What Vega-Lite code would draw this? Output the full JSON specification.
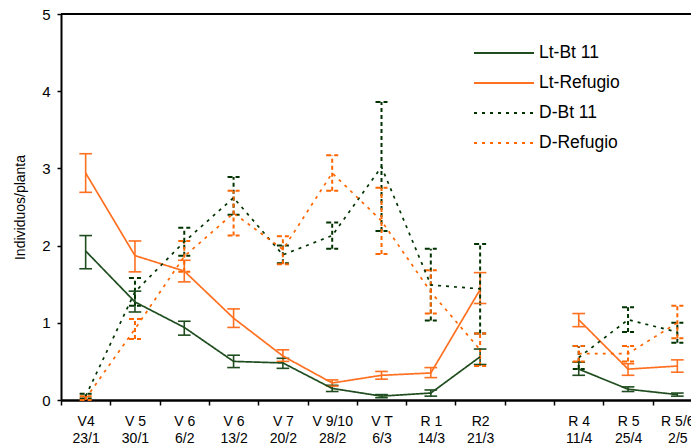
{
  "$schema": "https://vega.github.io/schema/vega-lite/v6.json",
  "width": 630,
  "height": 386,
  "autosize": {"type": "none"},
  "padding": {"left": 61, "top": 14, "right": 0, "bottom": 46},
  "config": {"view": {"stroke": null}, "font": "Liberation Sans"},
  "data": {
    "values": [
      {"s": "Lt-Bt 11", "x": "V4|23/1", "seg": 1, "y": 1.93, "lo": 1.70, "hi": 2.13},
      {"s": "Lt-Bt 11", "x": "V 5|30/1", "seg": 1, "y": 1.27, "lo": 1.14, "hi": 1.41},
      {"s": "Lt-Bt 11", "x": "V 6|6/2", "seg": 1, "y": 0.94, "lo": 0.84, "hi": 1.02},
      {"s": "Lt-Bt 11", "x": "V 6|13/2", "seg": 1, "y": 0.50, "lo": 0.42, "hi": 0.58},
      {"s": "Lt-Bt 11", "x": "V 7|20/2", "seg": 1, "y": 0.48, "lo": 0.41, "hi": 0.54},
      {"s": "Lt-Bt 11", "x": "V 9/10|28/2", "seg": 1, "y": 0.15, "lo": 0.11, "hi": 0.19},
      {"s": "Lt-Bt 11", "x": "V T|6/3", "seg": 1, "y": 0.05, "lo": 0.03, "hi": 0.07},
      {"s": "Lt-Bt 11", "x": "R 1|14/3", "seg": 1, "y": 0.09, "lo": 0.05, "hi": 0.13},
      {"s": "Lt-Bt 11", "x": "R2|21/3", "seg": 1, "y": 0.56, "lo": 0.46, "hi": 0.66},
      {"s": "Lt-Bt 11", "x": "R 4|11/4", "seg": 2, "y": 0.40, "lo": 0.32, "hi": 0.49},
      {"s": "Lt-Bt 11", "x": "R 5|25/4", "seg": 2, "y": 0.14, "lo": 0.11, "hi": 0.17},
      {"s": "Lt-Bt 11", "x": "R 5/6|2/5", "seg": 2, "y": 0.07, "lo": 0.05, "hi": 0.09},

      {"s": "Lt-Refugio", "x": "V4|23/1", "seg": 1, "y": 2.94, "lo": 2.69, "hi": 3.19},
      {"s": "Lt-Refugio", "x": "V 5|30/1", "seg": 1, "y": 1.87, "lo": 1.66, "hi": 2.06},
      {"s": "Lt-Refugio", "x": "V 6|6/2", "seg": 1, "y": 1.67, "lo": 1.53, "hi": 1.81},
      {"s": "Lt-Refugio", "x": "V 6|13/2", "seg": 1, "y": 1.06, "lo": 0.94, "hi": 1.18},
      {"s": "Lt-Refugio", "x": "V 7|20/2", "seg": 1, "y": 0.57, "lo": 0.50, "hi": 0.65},
      {"s": "Lt-Refugio", "x": "V 9/10|28/2", "seg": 1, "y": 0.22, "lo": 0.18, "hi": 0.26},
      {"s": "Lt-Refugio", "x": "V T|6/3", "seg": 1, "y": 0.32, "lo": 0.27, "hi": 0.37},
      {"s": "Lt-Refugio", "x": "R 1|14/3", "seg": 1, "y": 0.35, "lo": 0.29, "hi": 0.42},
      {"s": "Lt-Refugio", "x": "R2|21/3", "seg": 1, "y": 1.43, "lo": 1.25, "hi": 1.65},
      {"s": "Lt-Refugio", "x": "R 4|11/4", "seg": 2, "y": 1.04, "lo": 0.95, "hi": 1.12},
      {"s": "Lt-Refugio", "x": "R 5|25/4", "seg": 2, "y": 0.40, "lo": 0.32, "hi": 0.47},
      {"s": "Lt-Refugio", "x": "R 5/6|2/5", "seg": 2, "y": 0.44, "lo": 0.36, "hi": 0.52},

      {"s": "D-Bt 11", "x": "V4|23/1", "seg": 1, "y": 0.05, "lo": 0.02, "hi": 0.08},
      {"s": "D-Bt 11", "x": "V 5|30/1", "seg": 1, "y": 1.40, "lo": 1.22, "hi": 1.58},
      {"s": "D-Bt 11", "x": "V 6|6/2", "seg": 1, "y": 2.05, "lo": 1.87, "hi": 2.23},
      {"s": "D-Bt 11", "x": "V 6|13/2", "seg": 1, "y": 2.62, "lo": 2.40, "hi": 2.89},
      {"s": "D-Bt 11", "x": "V 7|20/2", "seg": 1, "y": 1.88, "lo": 1.77, "hi": 2.00},
      {"s": "D-Bt 11", "x": "V 9/10|28/2", "seg": 1, "y": 2.13, "lo": 1.96, "hi": 2.30},
      {"s": "D-Bt 11", "x": "V T|6/3", "seg": 1, "y": 3.02, "lo": 2.19, "hi": 3.86},
      {"s": "D-Bt 11", "x": "R 1|14/3", "seg": 1, "y": 1.49, "lo": 1.03, "hi": 1.96},
      {"s": "D-Bt 11", "x": "R2|21/3", "seg": 1, "y": 1.44, "lo": 0.86, "hi": 2.02},
      {"s": "D-Bt 11", "x": "R 4|11/4", "seg": 2, "y": 0.55, "lo": 0.40, "hi": 0.70},
      {"s": "D-Bt 11", "x": "R 5|25/4", "seg": 2, "y": 1.04, "lo": 0.88, "hi": 1.20},
      {"s": "D-Bt 11", "x": "R 5/6|2/5", "seg": 2, "y": 0.88, "lo": 0.74, "hi": 1.00},

      {"s": "D-Refugio", "x": "V4|23/1", "seg": 1, "y": 0.02, "lo": 0.00, "hi": 0.05},
      {"s": "D-Refugio", "x": "V 5|30/1", "seg": 1, "y": 0.92, "lo": 0.79, "hi": 1.05},
      {"s": "D-Refugio", "x": "V 6|6/2", "seg": 1, "y": 1.86, "lo": 1.66, "hi": 2.06},
      {"s": "D-Refugio", "x": "V 6|13/2", "seg": 1, "y": 2.42, "lo": 2.13, "hi": 2.71},
      {"s": "D-Refugio", "x": "V 7|20/2", "seg": 1, "y": 1.95, "lo": 1.76, "hi": 2.12},
      {"s": "D-Refugio", "x": "V 9/10|28/2", "seg": 1, "y": 2.94, "lo": 2.71, "hi": 3.17},
      {"s": "D-Refugio", "x": "V T|6/3", "seg": 1, "y": 2.32, "lo": 1.89, "hi": 2.75},
      {"s": "D-Refugio", "x": "R 1|14/3", "seg": 1, "y": 1.40, "lo": 1.12, "hi": 1.68},
      {"s": "D-Refugio", "x": "R2|21/3", "seg": 1, "y": 0.65, "lo": 0.44, "hi": 0.86},
      {"s": "D-Refugio", "x": "R 4|11/4", "seg": 2, "y": 0.60, "lo": 0.50, "hi": 0.70},
      {"s": "D-Refugio", "x": "R 5|25/4", "seg": 2, "y": 0.60, "lo": 0.50, "hi": 0.70},
      {"s": "D-Refugio", "x": "R 5/6|2/5", "seg": 2, "y": 1.00, "lo": 0.80, "hi": 1.22}
    ]
  },
  "encoding": {
    "x": {
      "field": "x",
      "type": "nominal",
      "bandPosition": 0.5,
      "scale": {
        "type": "band",
        "domain": ["V4|23/1", "V 5|30/1", "V 6|6/2", "V 6|13/2", "V 7|20/2", "V 9/10|28/2", "V T|6/3", "R 1|14/3", "R2|21/3", "gap", "R 4|11/4", "R 5|25/4", "R 5/6|2/5"],
        "range": [0, 641],
        "paddingInner": 0,
        "paddingOuter": 0
      },
      "axis": {
        "title": null,
        "labelExpr": "isString(datum.value) && datum.value != 'gap' ? split(datum.value, '|') : ''",
        "labelAngle": 0,
        "labelFontSize": 14,
        "labelLineHeight": 17,
        "labelColor": "#000000",
        "labelPadding": 9,
        "tickBand": "extent",
        "tickSize": 5,
        "tickColor": "#000000",
        "tickWidth": 1.5,
        "domainColor": "#000000",
        "domainWidth": 2.5,
        "grid": false
      }
    }
  },
  "layer": [
    {
      "mark": {"type": "rule", "color": "#000000", "strokeWidth": 1.5},
      "encoding": {"x": null, "y": {"datum": 5}}
    },
    {
      "transform": [{"filter": "indexof(datum.s, 'Lt') == 0"}],
      "mark": {"type": "rule", "strokeWidth": 1.6},
      "encoding": {
        "y": {"field": "lo", "type": "quantitative"},
        "y2": {"field": "hi"},
        "color": {"field": "s", "type": "nominal"}
      }
    },
    {
      "transform": [{"filter": "indexof(datum.s, 'D') == 0"}],
      "mark": {"type": "rule", "strokeWidth": 2, "strokeDash": [4, 3]},
      "encoding": {
        "y": {"field": "lo", "type": "quantitative"},
        "y2": {"field": "hi"},
        "color": {"field": "s", "type": "nominal"}
      }
    },
    {
      "transform": [
        {"filter": "indexof(datum.s, 'Lt') == 0"},
        {"fold": ["lo", "hi"], "as": ["end", "v"]}
      ],
      "mark": {"type": "point", "shape": "M-1,0L1,0", "filled": false, "size": 160, "strokeWidth": 1.6, "opacity": 1},
      "encoding": {
        "y": {"field": "v", "type": "quantitative"},
        "color": {"field": "s", "type": "nominal"}
      }
    },
    {
      "transform": [
        {"filter": "indexof(datum.s, 'D') == 0"},
        {"fold": ["lo", "hi"], "as": ["end", "v"]}
      ],
      "mark": {"type": "point", "shape": "M-1,0L1,0", "filled": false, "size": 144, "strokeWidth": 2, "strokeDash": [5, 3], "opacity": 1},
      "encoding": {
        "y": {"field": "v", "type": "quantitative"},
        "color": {"field": "s", "type": "nominal"}
      }
    },
    {
      "mark": {"type": "line", "strokeWidth": 1.7},
      "encoding": {
        "y": {
          "field": "y",
          "type": "quantitative",
          "scale": {"domain": [0, 5], "nice": false},
          "axis": {
            "title": "Individuos/planta",
            "titleFontSize": 14,
            "titleFontWeight": "normal",
            "titleColor": "#000000",
            "titlePadding": 14,
            "values": [0, 1, 2, 3, 4, 5],
            "format": "d",
            "labelFontSize": 15,
            "labelColor": "#000000",
            "labelPadding": 7,
            "tickSize": 4,
            "tickColor": "#000000",
            "tickWidth": 1.5,
            "domainColor": "#000000",
            "domainWidth": 2,
            "grid": false
          }
        },
        "detail": {"field": "seg"},
        "color": {
          "field": "s",
          "type": "nominal",
          "title": null,
          "scale": {
            "domain": ["Lt-Bt 11", "Lt-Refugio", "D-Bt 11", "D-Refugio"],
            "range": ["#1f4d1f", "#ff7020", "#003300", "#ff6600"]
          },
          "legend": {
            "orient": "none",
            "legendX": 412,
            "legendY": 25,
            "symbolType": "stroke",
            "symbolSize": 3600,
            "symbolStrokeWidth": 2,
            "labelFontSize": 17.5,
            "labelColor": "#000000",
            "labelOffset": 4,
            "clipHeight": 28,
            "rowPadding": 2
          }
        },
        "strokeDash": {
          "field": "s",
          "type": "nominal",
          "title": null,
          "scale": {
            "domain": ["Lt-Bt 11", "Lt-Refugio", "D-Bt 11", "D-Refugio"],
            "range": [[1, 0], [1, 0], [3, 5], [3, 5]]
          },
          "legend": {
            "orient": "none",
            "legendX": 412,
            "legendY": 25,
            "symbolType": "stroke",
            "symbolSize": 3600,
            "symbolStrokeWidth": 2,
            "labelFontSize": 17.5,
            "labelColor": "#000000",
            "labelOffset": 4,
            "clipHeight": 28,
            "rowPadding": 2
          }
        }
      }
    }
  ]
}
